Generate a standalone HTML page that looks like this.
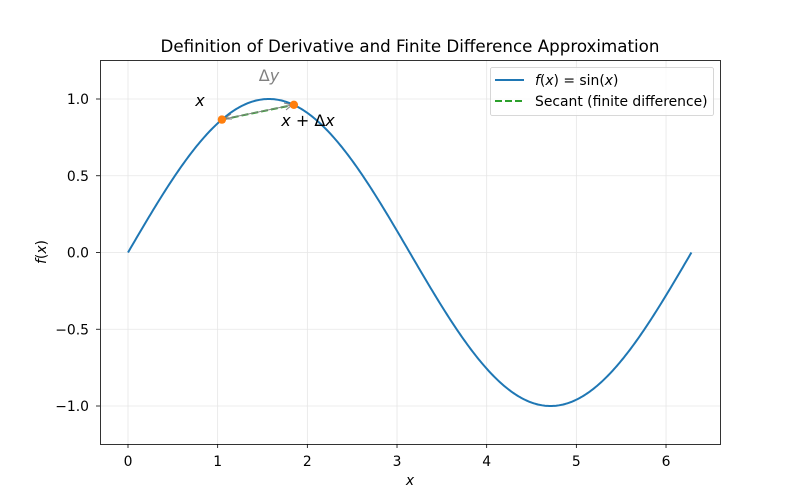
<!DOCTYPE html>
<html><head><meta charset="utf-8"><style>body{margin:0;background:#fff}svg{display:block}text{font-family:"DejaVu Sans","Liberation Sans",sans-serif}</style></head>
<body>
<svg id="s" width="800" height="500" viewBox="0 0 800 500" xmlns="http://www.w3.org/2000/svg">
<rect width="800" height="500" fill="#fff"/>
<g id="grid" stroke="#e6e6e6" stroke-width="0.8"></g>
<polyline id="curve" fill="none" stroke="#1f77b4" stroke-width="2"/>
<line x1="221.9" y1="119.6" x2="293.9" y2="104.8" stroke="#2ca02c" stroke-width="2" stroke-dasharray="7,3"/>
<line x1="224" y1="119" x2="292" y2="105" stroke="#808080" stroke-width="1"/>
<polyline points="231,114 224,119 232,119" fill="none" stroke="#808080" stroke-width="1"/>
<polyline points="284,103 292,105 286,110" fill="none" stroke="#808080" stroke-width="1"/>
<circle cx="221.9" cy="119.6" r="4.2" fill="#ff7f0e"/>
<circle cx="293.9" cy="104.8" r="4.2" fill="#ff7f0e"/>
<text x="200" y="106" font-size="16" font-style="italic" text-anchor="middle">x</text>
<text x="308" y="126" font-size="16" text-anchor="middle"><tspan font-style="italic">x</tspan> + Δ<tspan font-style="italic">x</tspan></text>
<text x="269" y="81" font-size="16" fill="#808080" text-anchor="middle">Δ<tspan font-style="italic">y</tspan></text>
<rect x="100.5" y="60.5" width="620" height="384" fill="none" stroke="#000" stroke-width="0.8"/>
<g id="ticks" font-size="13.9"></g>
<text x="410" y="485" font-size="13.9" font-style="italic" text-anchor="middle">x</text>
<text x="46" y="252" font-size="13.9" text-anchor="middle" transform="rotate(-90 46 252)"><tspan font-style="italic">f</tspan>(<tspan font-style="italic">x</tspan>)</text>
<text x="410" y="52" font-size="16.7" text-anchor="middle">Definition of Derivative and Finite Difference Approximation</text>
<rect x="490.5" y="67.5" width="223" height="48" rx="2" fill="#fff" fill-opacity="0.8" stroke="#ccc" stroke-width="0.8"/>
<line x1="495" y1="80" x2="524" y2="80" stroke="#1f77b4" stroke-width="2"/>
<line x1="495" y1="101" x2="524" y2="101" stroke="#2ca02c" stroke-width="2" stroke-dasharray="7,3"/>
<text x="535" y="85" font-size="13.9"><tspan font-style="italic">f</tspan>(<tspan font-style="italic">x</tspan>) = sin(<tspan font-style="italic">x</tspan>)</text>
<text x="535" y="106" font-size="13.9">Secant (finite difference)</text>
</svg>
<script>
var X=function(v){return 128+89.67*v},Y=function(v){return 252.5-153.5*v};
var p=[];for(var i=0;i<=400;i++){var t=2*Math.PI*i/400;p.push(X(t).toFixed(2)+','+Y(Math.sin(t)).toFixed(2));}
document.getElementById('curve').setAttribute('points',p.join(' '));
var g=document.getElementById('grid'),tk=document.getElementById('ticks'),h='';
var gg='';
for(var i=0;i<=6;i++){var x=X(i);gg+='<line x1="'+x+'" y1="60" x2="'+x+'" y2="444"/>';h+='<line x1="'+x+'" y1="444" x2="'+x+'" y2="448" stroke="#000" stroke-width="0.8"/><text x="'+x+'" y="466" text-anchor="middle">'+i+'</text>';}
[-1,-0.5,0,0.5,1].forEach(function(v){var y=Y(v);gg+='<line x1="100" y1="'+y+'" x2="720" y2="'+y+'"/>';h+='<line x1="96" y1="'+y+'" x2="100" y2="'+y+'" stroke="#000" stroke-width="0.8"/><text x="89" y="'+(y+5)+'" text-anchor="end">'+(v<0?'−':'')+Math.abs(v).toFixed(1)+'</text>';});
g.innerHTML=gg;tk.innerHTML=h;
</script>
</body></html>
